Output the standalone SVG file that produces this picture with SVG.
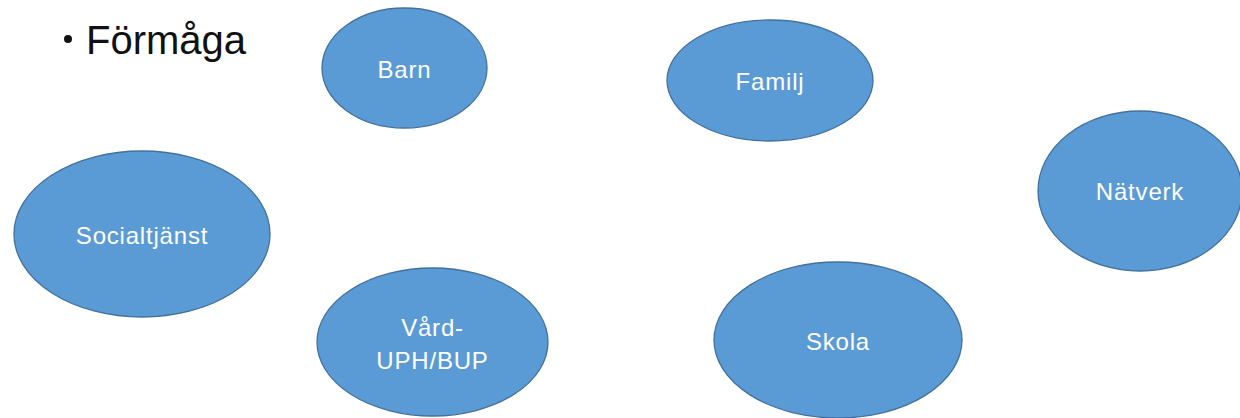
<svg xmlns="http://www.w3.org/2000/svg" width="1240" height="418" viewBox="0 0 1240 418">
<style>
.node ellipse{fill:#5B9BD5;stroke:#41719C;stroke-width:1.3}
.node text{fill:#ffffff;font-family:"Liberation Sans","Open Sans",sans-serif;font-size:24px;letter-spacing:0.8px;text-anchor:middle}
.title{fill:#111;font-family:"Liberation Sans","Open Sans",sans-serif;font-size:40px}
</style>
<rect width="1240" height="418" fill="#ffffff"/>
<g id="title">
<circle cx="68" cy="39" r="4" fill="#111"/>
<text class="title" x="86" y="54">Förmåga</text>
</g>
<g id="connectors"></g>
<g id="barn" class="node"><ellipse cx="404.5" cy="68" rx="82.5" ry="60"/><text x="404.5" y="78">Barn</text></g>
<g id="familj" class="node"><ellipse cx="770" cy="80.5" rx="103" ry="60.5"/><text x="770" y="90">Familj</text></g>
<g id="natverk" class="node"><ellipse cx="1140" cy="191" rx="102" ry="80"/><text x="1140" y="200">Nätverk</text></g>
<g id="socialtjanst" class="node"><ellipse cx="142" cy="234" rx="128" ry="83"/><text x="142" y="244">Socialtjänst</text></g>
<g id="vard" class="node"><ellipse cx="432.5" cy="342" rx="115.5" ry="74"/><text x="432.5" y="336">Vård-</text><text x="432.5" y="369">UPH/BUP</text></g>
<g id="skola" class="node"><ellipse cx="838" cy="340" rx="124" ry="78"/><text x="838" y="350">Skola</text></g>
</svg>
